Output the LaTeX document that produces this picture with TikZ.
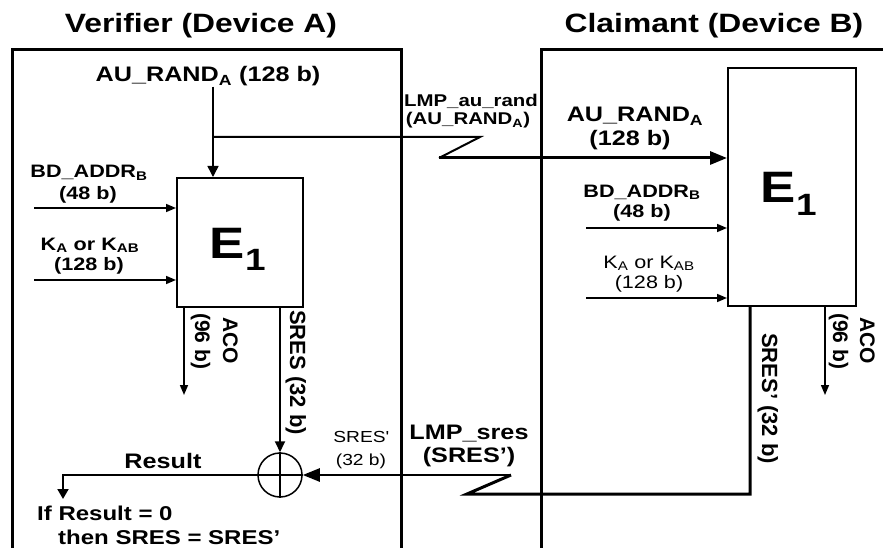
\documentclass[tikz,border=0pt]{standalone}
\usepackage{fontspec}
\usetikzlibrary{arrows.meta}
\newfontfamily\lf[FakeStretch=1.2]{Liberation Sans}
\newfontfamily\rf{Liberation Sans}
\tikzset{
  lab/.style={font=\lf\bfseries\fontsize{#1}{#1}\selectfont, inner sep=0pt, anchor=base},
  lab/.default=18,
  labr/.style={font=\lf\fontsize{#1}{#1}\selectfont, inner sep=0pt, anchor=base},
  labr/.default=18,
  vlab/.style={font=\rf\bfseries\fontsize{#1}{#1}\selectfont, inner sep=0pt, rotate=-90, anchor=base west},
  vlab/.default=21,
  dev/.style={draw, line width=3pt, inner sep=0pt, anchor=north west},
  fbox/.style={draw, line width=2pt, inner sep=0pt, anchor=north west},
  arr/.style={-{Triangle[length=10pt,width=8pt]}, line width=1.5pt},
  bigarr/.style={-{Triangle[length=17pt,width=13pt]}},
}
\begin{document}
\begin{tikzpicture}[x=1pt,y=-1pt]
\useasboundingbox (0,0) rectangle (883,548);
\clip (0,0) rectangle (883,548);
\fill[white] (0,0) rectangle (883,548);
% device frames
\node[dev, minimum width=389pt, minimum height=540pt] (devA) at (11,48) {};
\node[dev, minimum width=400pt, minimum height=540pt] (devB) at (540,48) {};
\node[lab=26.5] (tA) at (201,33) {Verifier (Device A)};
\node[lab=26.5] (tB) at (714,33) {Claimant (Device B)};
% E1 boxes
\node[fbox, minimum width=126pt, minimum height=129pt] (e1a) at (176,177) {};
\node[fbox, minimum width=128pt, minimum height=238pt] (e1b) at (727,67) {};
\node[lab=44] (ea) at (238,258) {E\textsubscript{1}};
\node[lab=44] (eb) at (789,203) {E\textsubscript{1}};
% XOR
\node[draw, circle, minimum size=44pt, inner sep=0pt, line width=1.5pt] (xor) at (280,475) {};
\draw[line width=1.5pt] (xor.north) -- (xor.south) (xor.west) -- (xor.east);
% labels left
\node[lab=21] (au1) at (208,82) {AU\_RAND\textsubscript{A} (128 b)};
\node[lab=18] (bd1) at (89,178) {BD\_ADDR\textsubscript{B}};
\node[lab=18] (bd1b) at (88,200) {(48 b)};
\node[lab=18] (k1) at (90,250) {K\textsubscript{A} or K\textsubscript{AB}};
\node[lab=18] (k1b) at (89,270) {(128 b)};
\node[vlab=21] (aco1a) at (223,317) {ACO};
\node[vlab=21] (aco1b) at (195,313) {(96 b)};
\node[vlab=22] (sres1) at (290,310) {SRES (32 b)};
\node[lab=21] (res) at (163,468) {Result};
\node[lab=20, anchor=base west] (if1) at (37,520) {If Result = 0};
\node[lab=20, anchor=base west] (if2) at (58,544) {then SRES = SRES’};
\node[labr=16] (sp1) at (361,442) {SRES\textquotesingle};
\node[labr=16] (sp2) at (361,465) {(32 b)};
% middle labels
\node[lab=17] (lmp1) at (471,107) {LMP\_au\_rand};
\node[lab=17] (lmp1b) at (468,125) {(AU\_RAND\textsubscript{A})};
\node[lab=21] (lmp2) at (469,439) {LMP\_sres};
\node[lab=21] (lmp2b) at (469,462) {(SRES’)};
% labels right
\node[lab=21] (au2) at (635,122) {AU\_RAND\textsubscript{A}};
\node[lab=21] (au2b) at (630,146) {(128 b)};
\node[lab=18] (bd2) at (642,197) {BD\_ADDR\textsubscript{B}};
\node[lab=18] (bd2b) at (642,218) {(48 b)};
\node[labr=18] (k2) at (649,268) {K\textsubscript{A} or K\textsubscript{AB}};
\node[labr=18] (k2b) at (649,288) {(128 b)};
\node[vlab=22] (sres2) at (762,333) {SRES’ (32 b)};
\node[vlab=21] (aco2a) at (860,317) {ACO};
\node[vlab=21] (aco2b) at (833,313) {(96 b)};
% coordinates
\coordinate (j1) at (213,137);
\coordinate (z1a) at (480,137);
\coordinate (z1b) at (439,158);
\coordinate (z2a) at (511,475);
\coordinate (z2b) at (467,494);
\coordinate (s2) at (750,494);
\coordinate (ibd1) at (34,208);
\coordinate (ik1) at (34,280);
\coordinate (ibd2) at (586,228);
\coordinate (ik2) at (586,298);
\coordinate (aco1) at (184,395);
\coordinate (aco2) at (825,395);
\coordinate (r1) at (63,475);
\coordinate (r2) at (63,499);
% AU_RAND distribution
\draw[line width=1.5pt, -{Triangle[length=11pt,width=11pt]}] (au1.south -| j1) -- (j1 |- e1a.north);
\draw[line width=2pt] (j1) -- (z1a) -- (z1b);
\draw[line width=3pt, bigarr] (z1b) -- (z1b -| e1b.west);
% inputs
\draw[arr] (ibd1) -- (ibd1 -| e1a.west);
\draw[arr] (ik1) -- (ik1 -| e1a.west);
\draw[arr] (ibd2) -- (ibd2 -| e1b.west);
\draw[arr] (ik2) -- (ik2 -| e1b.west);
% outputs
\draw[arr] (aco1 |- e1a.south) -- (aco1);
\draw[arr] (aco2 |- e1b.south) -- (aco2);
\draw[line width=2pt, -{Triangle[length=11pt,width=10pt]}] (xor.north |- e1a.south) -- (xor.north);
\draw[line width=3pt, line join=miter] (s2 |- e1b.south) -- (s2) -- (z2b) -- (z2a);
\draw[line width=2.5pt, bigarr] (z2a) -- (xor.east);
\draw[line width=2pt, -{Triangle[length=10pt,width=11pt]}] (xor.west) -- (r1) -- (r2);
\end{tikzpicture}
\end{document}
